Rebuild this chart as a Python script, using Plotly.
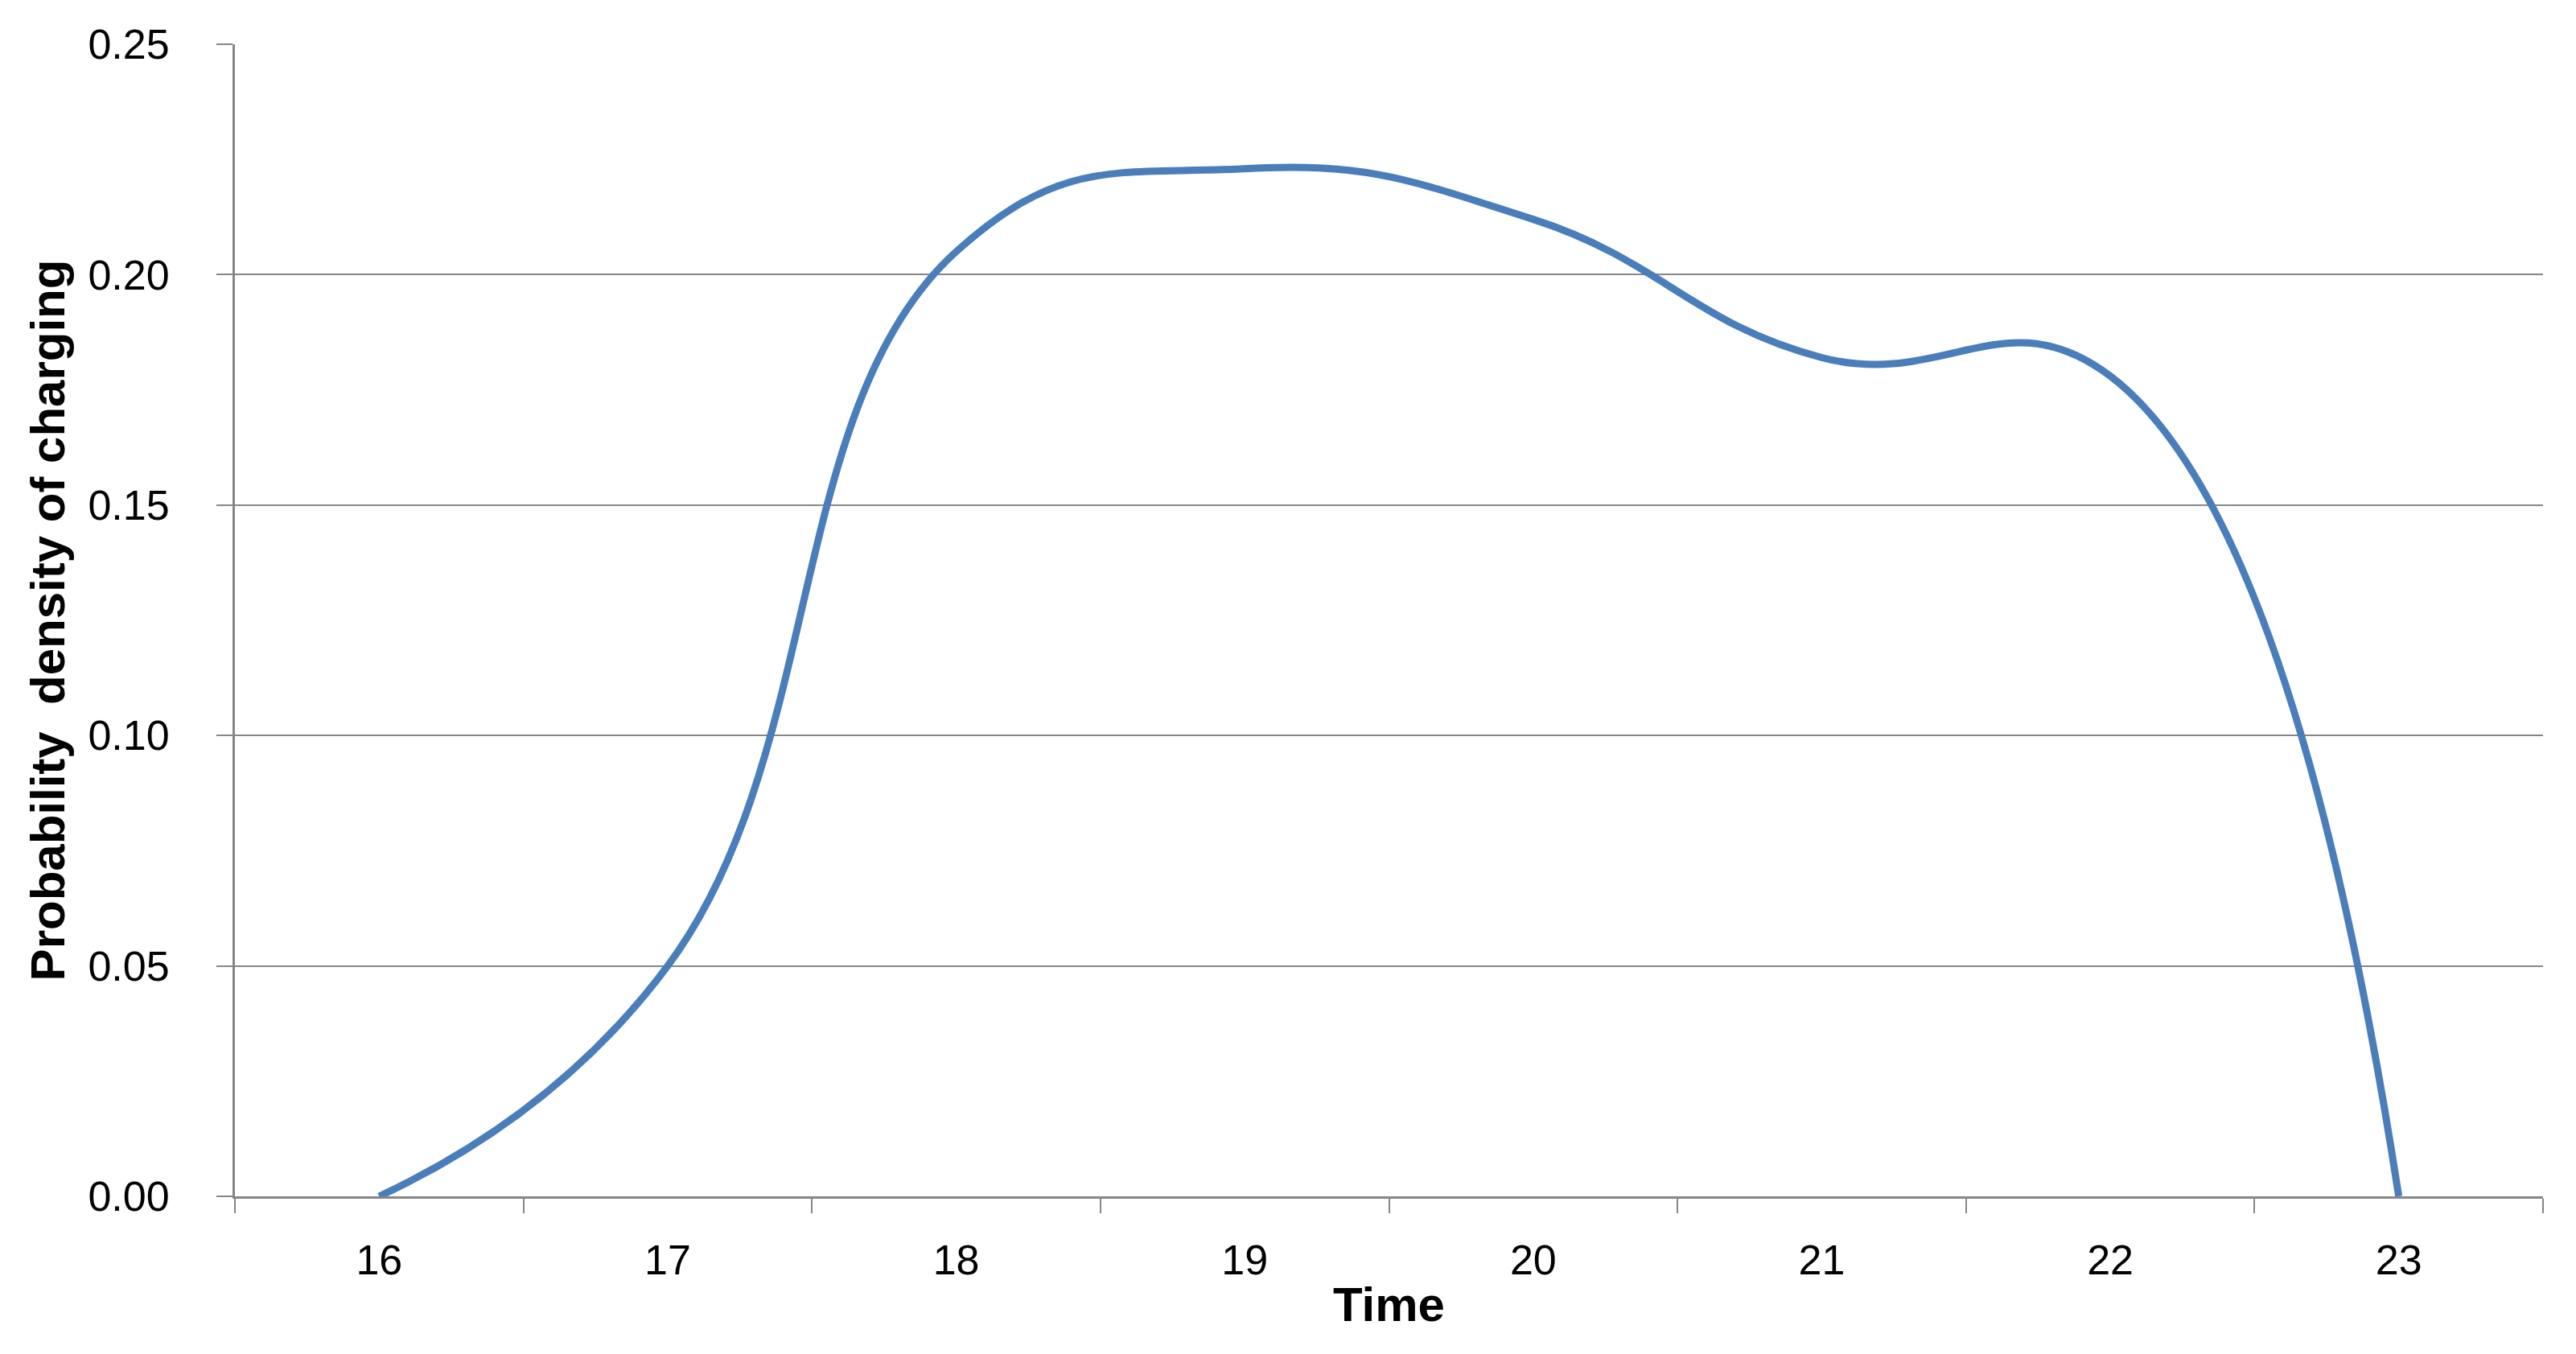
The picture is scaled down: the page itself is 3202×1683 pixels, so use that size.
import plotly.graph_objects as go

# hourly probability density of charging
hours = ["16", "17", "18", "19", "20", "21", "22", "23"]
density = [0.0, 0.050, 0.205, 0.223, 0.212, 0.182, 0.178, 0.0]
y_ticks = [0.0, 0.05, 0.10, 0.15, 0.20, 0.25]

LINE_BLUE = "#4A7EBB"
GRID_GREY = "#868686"
FONT = "Liberation Sans, Arial, sans-serif"

fig = go.Figure(
    go.Scatter(
        x=hours,
        y=density,
        mode="lines",
        line=dict(color=LINE_BLUE, width=9, shape="spline", smoothing=1.3),
        cliponaxis=False,
    )
)

fig.update_layout(
    width=3202,
    height=1683,
    paper_bgcolor="white",
    plot_bgcolor="white",
    showlegend=False,
    font=dict(family=FONT, size=52, color="black"),
    margin=dict(l=284, r=49, t=47, b=204),
)

fig.update_xaxes(
    type="category",
    range=[-0.5, 7.5],
    tickson="boundaries",
    ticks="outside",
    ticklen=18,
    tickwidth=2,
    tickcolor=GRID_GREY,
    showline=True,
    linecolor=GRID_GREY,
    linewidth=3,
    showgrid=False,
    zeroline=False,
    ticklabelstandoff=32,
    title=dict(text="<b>Time</b>", font=dict(family=FONT, size=60), standoff=6),
)

fig.update_yaxes(
    range=[0, 0.25],
    tickvals=y_ticks,
    tickformat=".2f",
    ticks="outside",
    ticklen=20,
    tickwidth=2,
    tickcolor=GRID_GREY,
    showline=True,
    linecolor=GRID_GREY,
    linewidth=3,
    showgrid=True,
    gridcolor=GRID_GREY,
    gridwidth=2,
    zeroline=False,
    ticklabelstandoff=48,
    title=dict(text="<b>Probability\u00a0 density of charging</b>", font=dict(family=FONT, size=60), standoff=10),
)

fig.write_html("out.html")
